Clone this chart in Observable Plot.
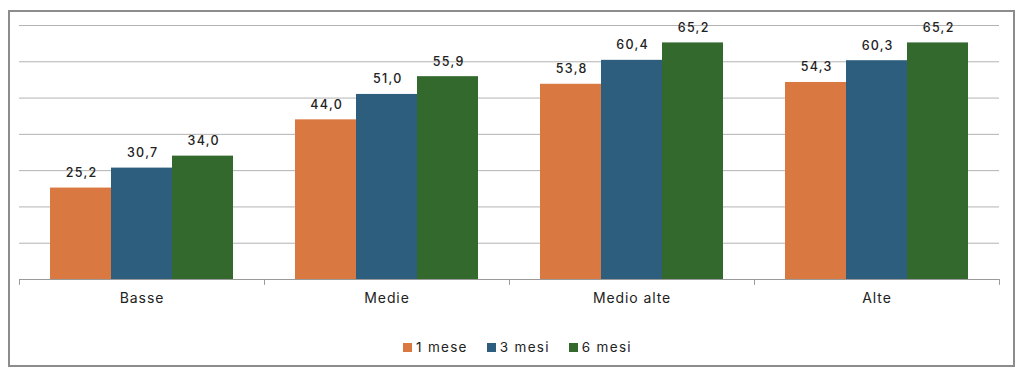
<!DOCTYPE html>
<html>
<head>
<meta charset="utf-8">
<script src="https://cdn.jsdelivr.net/npm/d3@7"></script>
<script src="https://cdn.jsdelivr.net/npm/@observablehq/plot@0.6"></script>
<style>
  html, body { margin: 0; padding: 0; background: #fff; width: 1024px; height: 372px; overflow: hidden; font-family: Inter, "Liberation Sans", Arial, sans-serif; }
  #frame { position: absolute; left: 8px; top: 10px; width: 1003px; height: 353px; border: 2px solid #8c8c8c; }
  #chart { position: absolute; left: 0; top: 0; }
  #chart svg .val text { letter-spacing: 1.3px; }
  #chart svg g[aria-label="fx-axis tick label"] text { letter-spacing: 0.9px; }
  #legend { position: absolute; left: 403px; top: 339px; display: flex; font-size: 13.5px; color: #222; letter-spacing: 1.3px; }
  .item { display: flex; align-items: center; margin-right: 19px; }
  .sw { width: 9px; height: 9px; margin-right: 4px; }
</style>
</head>
<body>
<div id="frame"></div>
<div id="chart"></div>
<div id="legend"></div>
<script>
const categories = ["Basse", "Medie", "Medio alte", "Alte"];
const series = ["1 mese", "3 mesi", "6 mesi"];
const values1mese = [25.2, 44.0, 53.8, 54.3];
const values3mesi = [30.7, 51.0, 60.4, 60.3];
const values6mesi = [34.0, 55.9, 65.2, 65.2];
const seriesColors = ["#D97841", "#2D5E7D", "#33692D"];
const gridTicks = [10, 20, 30, 40, 50, 60, 70];

const allValues = [values1mese, values3mesi, values6mesi];
const data = [];
categories.forEach((cat, i) => {
  series.forEach((s, j) => data.push({cat, series: s, value: allValues[j][i]}));
});
const fmt = v => v.toFixed(1).replace(".", ",");

const tickShape = { draw(context, l) { context.moveTo(0, 0); context.lineTo(0, -l); } };

const chart = Plot.plot({
  width: 1024,
  height: 322,
  marginLeft: 17,
  marginRight: 24,
  marginTop: 25,
  marginBottom: 43,
  style: { fontFamily: "Inter, 'Liberation Sans', Arial, sans-serif", background: "transparent", overflow: "visible" },
  fx: { domain: categories, padding: 0, label: null },
  x: { domain: series, paddingInner: 0, paddingOuter: 0.5, axis: null },
  y: { domain: [0, 70], axis: null },
  color: { domain: series, range: seriesColors },
  marks: [
    Plot.ruleY(gridTicks, { y: d => d, stroke: "#b3b3b3", strokeWidth: 1 }),
    Plot.barY(data, { fx: "cat", x: "series", y: "value", fill: "series" }),
    Plot.ruleY([0], { stroke: "#9a9a9a", strokeWidth: 1 }),
    Plot.vector(categories, { fx: d => d, frameAnchor: "bottom-left", length: 5, rotate: 180, anchor: "start", shape: tickShape, stroke: "#9a9a9a", strokeWidth: 1 }),
    Plot.vector([categories[categories.length - 1]], { fx: d => d, frameAnchor: "bottom-right", length: 5, rotate: 180, anchor: "start", shape: tickShape, stroke: "#9a9a9a", strokeWidth: 1 }),
    Plot.text(data, { fx: "cat", x: "series", y: "value", text: d => fmt(d.value), lineAnchor: "bottom", dy: -11, dx: 0.7, fontSize: 12.5, fontWeight: 500, fill: "#222", className: "val" }),
    Plot.axisFx({ anchor: "bottom", tickSize: 0, tickPadding: 14, fontSize: 14, fill: "#222", label: null })
  ]
});
document.getElementById("chart").appendChild(chart);

const legend = document.getElementById("legend");
series.forEach((s, i) => {
  const item = document.createElement("div");
  item.className = "item";
  const sw = document.createElement("div");
  sw.className = "sw";
  sw.style.background = seriesColors[i];
  const label = document.createElement("span");
  label.textContent = s;
  item.appendChild(sw);
  item.appendChild(label);
  legend.appendChild(item);
});
</script>
</body>
</html>
